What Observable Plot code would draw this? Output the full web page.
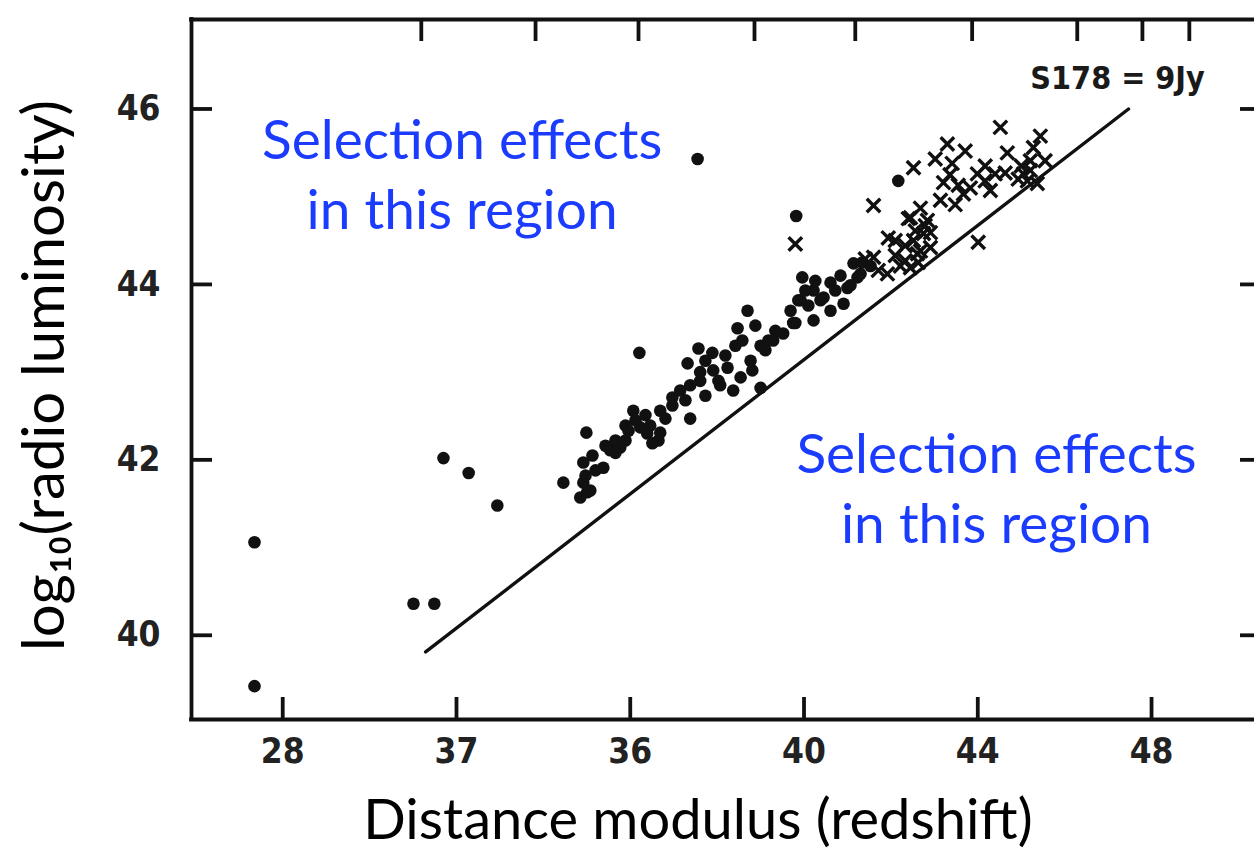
<!DOCTYPE html>
<html><head><meta charset="utf-8">
<script src="https://cdn.jsdelivr.net/npm/d3@7"></script>
<script src="https://cdn.jsdelivr.net/npm/@observablehq/plot@0.6"></script>
<style>html,body{margin:0;padding:0;background:#fff;} #chart svg{display:block}</style>
</head><body><div id="chart"></div>
<script>
// ---- data ----
const xTicks = [28, 32, 36, 40, 44, 48];
const xTickLabels = ["28", "37", "36", "40", "44", "48"];
const yTicks = [40, 42, 44, 46];
const yTickLabels = ["40", "42", "44", "46"];
const topTicks = [31.19, 33.82, 36.19, 38.86, 41.18, 43.87, 46.29, 47.79, 48.87];

const circles = [
  [27.35, 41.06], [27.35, 39.42], [31.01, 40.36], [31.49, 40.36], [31.70, 42.02],
  [32.28, 41.85], [32.94, 41.48], [34.46, 41.74], [34.99, 42.31], [36.21, 43.22],
  [37.55, 45.43], [39.82, 44.78], [42.17, 45.18],
  [38.70, 43.70], [38.88, 43.53], [38.47, 43.50], [37.57, 43.27], [37.32, 43.10],
  [39.75, 43.56], [39.11, 43.25], [39.00, 42.82], [37.38, 42.47], [36.07, 42.56],
  [36.97, 42.71], [36.39, 42.30], [35.01, 41.63], [34.92, 41.74], [35.13, 42.05],
  [35.54, 42.11], [35.38, 41.91], [35.77, 42.14], [36.23, 42.37], [36.51, 42.19],
  [36.69, 42.31], [37.61, 42.90], [37.91, 43.02], [38.24, 43.05], [38.37, 42.79],
  [38.54, 42.94], [38.77, 43.13], [39.29, 43.36], [39.52, 43.44], [40.22, 43.59],
  [40.61, 43.70], [40.91, 43.78], [35.66, 42.22], [35.89, 42.39], [36.69, 42.56],
  [37.15, 42.79], [37.73, 42.73], [38.07, 42.85], [35.20, 41.88], [39.87, 43.82],
  [40.10, 43.76],
  [39.96, 44.08], [40.61, 44.02], [41.14, 44.24], [41.30, 44.12], [40.45, 43.85],
  [40.22, 43.93], [39.80, 43.56], [41.00, 43.96], [41.23, 44.08],
  [34.92, 41.97], [34.97, 41.82], [35.08, 41.65], [34.85, 41.57], [35.43, 42.16],
  [35.66, 42.08], [35.89, 42.22], [35.96, 42.33], [36.12, 42.45], [36.35, 42.51],
  [36.46, 42.39], [36.65, 42.22], [36.81, 42.47], [36.97, 42.62], [37.27, 42.68],
  [37.38, 42.85], [37.61, 43.00], [37.73, 43.13], [37.89, 43.22], [38.03, 42.90],
  [38.19, 43.19], [38.42, 43.30], [38.58, 43.36], [38.81, 43.02], [39.00, 43.30],
  [39.18, 43.36], [39.34, 43.47], [39.69, 43.70], [39.92, 43.82], [40.03, 43.93],
  [40.26, 44.04], [40.38, 43.82], [40.72, 43.93], [40.84, 44.10], [41.07, 43.99],
  [41.34, 44.25], [41.53, 44.21]
];

const crosses = [
  [39.80, 44.46], [41.60, 44.90], [41.94, 44.53], [42.40, 44.75], [42.52, 45.33],
  [43.02, 45.43], [43.30, 45.60], [43.71, 45.52], [43.41, 45.38], [43.21, 45.16],
  [43.99, 45.26], [44.40, 45.26], [44.52, 45.79], [44.68, 45.50], [45.28, 45.56],
  [45.44, 45.69], [45.05, 45.26], [45.14, 45.18], [45.37, 45.15], [45.00, 45.35],
  [45.21, 45.41], [44.01, 44.48], [43.83, 45.10], [43.67, 45.03], [42.68, 44.87],
  [42.45, 44.76], [42.84, 44.73], [42.75, 44.58], [42.91, 44.42], [42.61, 44.35],
  [42.45, 44.19], [41.60, 44.31], [41.92, 44.12], [42.68, 44.38], [42.52, 44.50],
  [42.79, 44.67], [42.33, 44.27], [43.36, 45.25], [43.55, 45.13], [44.17, 45.18],
  [43.14, 44.96], [43.48, 44.91],
  [41.41, 44.29], [41.71, 44.16], [42.10, 44.33], [42.22, 44.21], [42.33, 44.44],
  [42.10, 44.50], [42.56, 44.61], [42.91, 44.59], [42.63, 44.25], [44.93, 45.20],
  [45.21, 45.30], [45.55, 45.41], [44.17, 45.35], [44.63, 45.27], [44.29, 45.07]
];

const limitLineX = [31.29, 47.47];
const limitLineY = [39.81, 46.0];
const limitLabel = "S178 = 9Jy";
const limitLabelX = 45.21;
const limitLabelY = 46.35;

const regionText = "Selection effects\nin this region";
const regionX = [32.13, 44.43];
const regionY = [45.29, 41.71];

const xTitle = "Distance modulus (redshift)";
const yTitle = "log\u2081\u2080(radio luminosity)";

// ---- layout ----
const W = 1254, H = 867, mL = 191, mR = 0, mT = 19, mB = 148;
const xDomain = [25.9, 50.37], yDomain = [39.04, 47.02];
const xPerPx = (xDomain[1] - xDomain[0]) / (W - mL - mR);
const yPerPx = (yDomain[1] - yDomain[0]) / (H - mT - mB);
const ink = "#111";
const sw = 3.8;

const chart = Plot.plot({
  width: W, height: H,
  marginLeft: mL, marginRight: mR, marginTop: mT, marginBottom: mB,
  style: {fontFamily: "'DejaVu Sans Condensed', 'DejaVu Sans', sans-serif", fontSize: "35px", fontWeight: "bold", color: ink, background: "#fff"},
  x: {domain: xDomain, axis: null},
  y: {domain: yDomain, axis: null},
  marks: [
    // frame (left, bottom, top)
    Plot.ruleX([xDomain[0]], {stroke: ink, strokeWidth: sw, strokeLinecap: "square"}),
    Plot.ruleY([yDomain[0], yDomain[1]], {stroke: ink, strokeWidth: sw, strokeLinecap: "square"}),
    // inward ticks
    Plot.ruleX(xTicks, {x: d => d, y1: yDomain[0], y2: yDomain[0] + 22 * yPerPx, stroke: ink, strokeWidth: sw}),
    Plot.ruleX(topTicks, {x: d => d, y1: yDomain[1], y2: yDomain[1] - 22 * yPerPx, stroke: ink, strokeWidth: sw}),
    Plot.ruleY(yTicks, {y: d => d, x1: xDomain[0], x2: xDomain[0] + 21 * xPerPx, stroke: ink, strokeWidth: sw}),
    Plot.ruleY(yTicks, {y: d => d, x1: xDomain[1] - 14 * xPerPx, x2: xDomain[1], stroke: ink, strokeWidth: sw}),
    // tick labels
    Plot.axisX(xTicks, {tickSize: 0, tickPadding: 19, tickFormat: d => xTickLabels[xTicks.indexOf(d)], fill: "#222", label: null}),
    Plot.axisY(yTicks, {tickSize: 0, tickPadding: 31, tickFormat: d => yTickLabels[yTicks.indexOf(d)], fill: "#222", label: null}),
    // flux-limit line
    Plot.line(limitLineX.map((x, i) => [x, limitLineY[i]]), {x: d => d[0], y: d => d[1], stroke: ink, strokeWidth: 3.4}),
    Plot.text([limitLabel], {x: limitLabelX, y: limitLabelY, text: d => d, textAnchor: "start", fontSize: 32, fontWeight: "bold", fill: "#1a1a1a"}),
    // data
    Plot.dot(circles, {x: d => d[0], y: d => d[1], r: 6.3, fill: ink, stroke: "none"}),
    Plot.dot(crosses, {x: d => d[0], y: d => d[1], symbol: "times", r: 6.2, stroke: ink, strokeWidth: 3.4, fill: "none"}),
    // annotations
    Plot.text(regionX.map((x, i) => ({x, y: regionY[i]})), {x: "x", y: "y", text: () => regionText, fill: "#1b3cff", fontSize: 55, fontWeight: "normal", fontFamily: "Lato", lineHeight: 1.27, textAnchor: "middle"}),
    // axis titles
    Plot.text([xTitle], {text: d => d, frameAnchor: "bottom", textAnchor: "middle", dx: -25, dy: 119, fontSize: 56, fontWeight: "normal", fontFamily: "Lato", fill: "#000"}),
    Plot.text([yTitle], {text: d => d, frameAnchor: "left", textAnchor: "middle", dx: -146, dy: 6, rotate: -90, fontSize: 58, fontWeight: "normal", fontFamily: "Lato", fill: "#000"})
  ]
});
document.getElementById("chart").appendChild(chart);
</script>
</body></html>
